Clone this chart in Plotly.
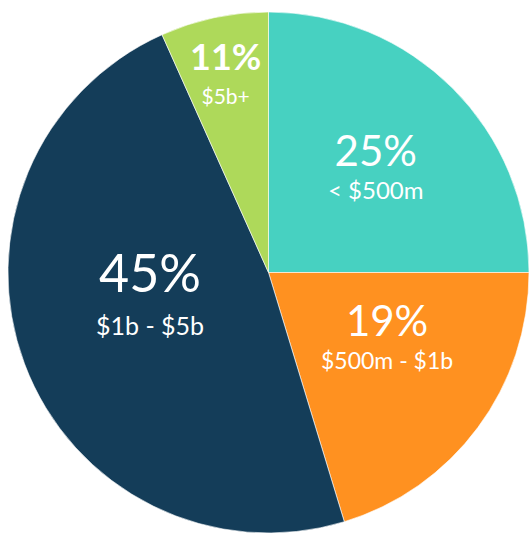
import math
import plotly.graph_objects as go

categories = ["< $500m", "$500m - $1b", "$1b - $5b", "$5b+"]
shares = [25.0, 20.3, 48.0, 6.7]          # slice sizes as drawn
label_pct = ["25%", "19%", "45%", "11%"]  # printed labels
colors = ["#47D1C1", "#FF9120", "#143D59", "#AED95A"]

# label styling (sizes / placement tweaks, not data)
pct_sizes = [42, 42, 52, 36]
cat_sizes = [24, 23, 25, 21]
line_sizes = [25, 25, 33, 26]
pct_bold = [False, False, False, True]
label_r = [0.585, 0.515, 0.46, 0.79]
label_dang = [0, -9, 12, 0]

W, H = 529, 533
dom_x = [8 / W, 1.0]
dom_y = [0.0, 521 / H]
# resulting pie geometry in pixels (plotly: radius = half the smaller domain side)
R = min((dom_x[1] - dom_x[0]) * W, (dom_y[1] - dom_y[0]) * H) / 2
CX = (dom_x[0] + dom_x[1]) / 2 * W
CY = (1 - (dom_y[0] + dom_y[1]) / 2) * H

fig = go.Figure(go.Pie(
    labels=categories,
    values=shares,
    textinfo="none",
    sort=False,
    direction="clockwise",
    rotation=0,
    marker=dict(colors=colors, line=dict(color="white", width=0.6)),
    domain=dict(x=dom_x, y=dom_y),
    hoverinfo="none",
    showlegend=False,
))

total = sum(shares)
cum = 0.0
annotations = []
for i, (v, p, c) in enumerate(zip(shares, label_pct, categories)):
    mid = (cum + v / 2) / total * 360 + label_dang[i]
    cum += v
    a = math.radians(mid)
    px = CX + label_r[i] * R * math.sin(a)
    py = CY - label_r[i] * R * math.cos(a)
    ptxt = f"<b>{p}</b>" if pct_bold[i] else p
    txt = (f"<span style='font-size:{pct_sizes[i]}px'>{ptxt}</span><br>"
           f"<span style='font-size:{cat_sizes[i]}px'>{c}</span>")
    annotations.append(dict(
        x=px / W, y=1 - py / H, xref="paper", yref="paper",
        text=txt, showarrow=False, xanchor="center", yanchor="middle",
        align="center",
        font=dict(family="Lato", color="white", size=line_sizes[i]),
    ))

fig.update_layout(
    width=W, height=H,
    margin=dict(l=0, r=0, t=0, b=0),
    paper_bgcolor="white",
    annotations=annotations,
)
fig.write_html(
    "out.html",
    config={"displayModeBar": False},
    post_script="document.body.style.margin='0';document.body.style.overflow='hidden';",
)
